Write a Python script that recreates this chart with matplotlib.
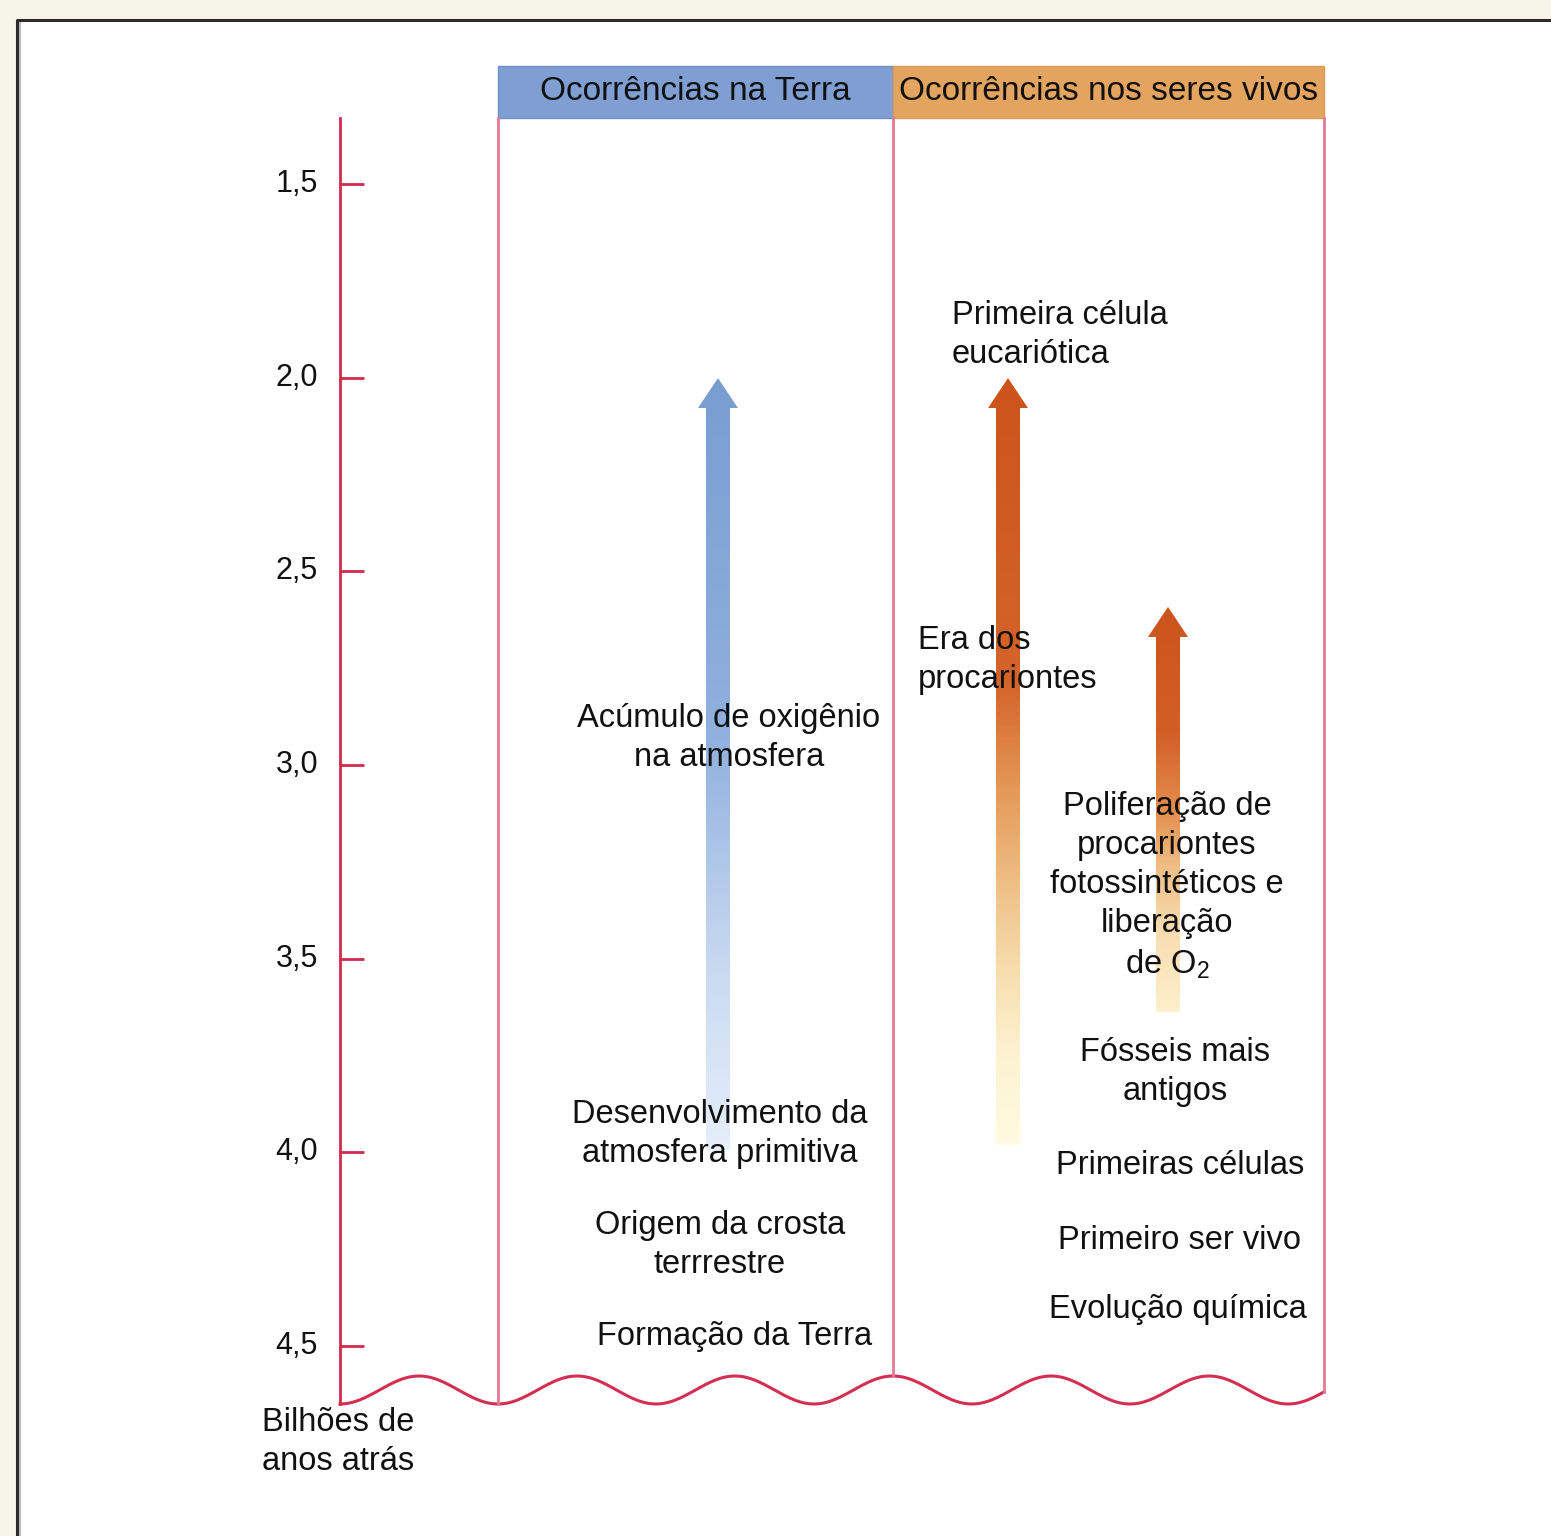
import numpy as np
import matplotlib.pyplot as plt
from matplotlib.patches import Polygon, Rectangle
from matplotlib.colors import LinearSegmentedColormap

plt.rcParams['font.family'] = ['Liberation Sans', 'DejaVu Sans']
plt.rcParams['mathtext.fontset'] = 'custom'
plt.rcParams['mathtext.rm'] = 'Liberation Sans'
plt.rcParams['mathtext.it'] = 'Liberation Sans:italic'

# timeline (billions of years ago)
ticks = [1.5, 2.0, 2.5, 3.0, 3.5, 4.0, 4.5]
tick_labels = ['1,5', '2,0', '2,5', '3,0', '3,5', '4,0', '4,5']
headers = ['Ocorrências na Terra', 'Ocorrências nos seres vivos']

earth_events = ['Formação da Terra', 'Origem da crosta\nterrrestre',
                'Desenvolvimento da\natmosfera primitiva',
                'Acúmulo de oxigênio\nna atmosfera']
earth_times = [4.477, 4.24, 3.953, 2.93]

life_events = ['Evolução química', 'Primeiro ser vivo', 'Primeiras células',
               'Fósseis mais\nantigos',
               'Poliferação de\nprocariontes\nfotossintéticos e\nliberação\nde O$_2$']
life_times = [4.407, 4.229, 4.035, 3.793, 3.313]

left_events = ['Era dos\nprocariontes', 'Primeira célula\neucariótica']
left_times = [2.729, 1.89]

# arrows: (start, end) in billions of years
arrow_start = [3.994, 3.98, 3.638]
arrow_end = [2.001, 2.001, 2.592]

W, H = 1551, 1536
PX0, PXS = 184, 387.3  # pixel row of 1,5 and pixels per billion years


def yr(px):
    return 1.5 + (px - PX0) / PXS


fig = plt.figure(figsize=(W / 100, H / 100), dpi=100)
fig.patch.set_facecolor('#f7f5ea')

# layout layer in pixels
lay = fig.add_axes([0, 0, 1, 1])
lay.set_xlim(0, W)
lay.set_ylim(H, 0)
lay.axis('off')
lay.add_patch(Rectangle((17, 20), W, H, facecolor='white', edgecolor='none'))
lay.plot([19, 19], [H, 22], color='#bdbdbd', lw=3)
lay.plot([17, 17, W], [H, 20, 20], color='#2b2b2b', lw=2.2, solid_capstyle='butt')

# headers
hdr_x = [498, 893, 1324]
hdr_c = ['#7f9ed2', '#e3a45f']
hdr_e = ['#6f8fc8', '#d99a55']
for i in range(2):
    lay.add_patch(Rectangle((hdr_x[i], 66), hdr_x[i + 1] - hdr_x[i], 52,
                            facecolor=hdr_c[i], edgecolor=hdr_e[i], lw=1))
    lay.text((hdr_x[i] + hdr_x[i + 1]) / 2, 91, headers[i], ha='center', va='center',
             fontsize=24, color='#111111')

# bottom wavy edge (decorative)
xw = np.linspace(340, 1324, 600)
yw = 1390 + 14 * np.cos(2 * np.pi * (xw - 340) / 158)
lay.plot(xw, yw, color='#d22f52', lw=2.2)
lay.plot([340, 340], [118, yw[0]], color='#d22a4e', lw=2)
for x in hdr_x:
    lay.plot([x, x], [118, np.interp(x, xw, yw)], color='#e27b93', lw=2)

lay.text(262, 1442, 'Bilhões de\nanos atrás', ha='left', va='center', fontsize=23.5,
         linespacing=1.33, color='#111111')

# time layer
ax = fig.add_axes([0, 0, 1, 1], facecolor='none')
ax.set_xlim(0, W)
ax.set_ylim(yr(H), yr(0))
ax.axis('off')

ax.hlines(ticks, 340, 364, color='#d22a4e', lw=2)
for t, lab in zip(ticks, tick_labels):
    ax.text(318, t, lab, ha='right', va='center', fontsize=22, color='#111111')

arrow_x = [718, 1008, 1168]
cmaps = [
    LinearSegmentedColormap.from_list('b', [(0, '#e6effa'), (0.25, '#c6d8f0'),
                                            (0.53, '#91b1de'), (1, '#789ed0')]),
    LinearSegmentedColormap.from_list('o1', [(0, '#fffae0'), (0.12, '#fdf2d0'), (0.22, '#f8dfb0'),
                                             (0.33, '#efc28a'), (0.46, '#e49a58'),
                                             (0.6, '#d4642a'), (1, '#cc541c')]),
    LinearSegmentedColormap.from_list('o2', [(0, '#fdf0cc'), (0.2, '#f8dcb0'), (0.36, '#efbd85'),
                                             (0.49, '#e49050'), (0.69, '#d25e26'),
                                             (1, '#cc541c')]),
]
head_h = 30 / PXS
for x, y0, y1, cm in zip(arrow_x, arrow_start, arrow_end, cmaps):
    sw, hw = 12, 20
    verts = [(x - sw, y0), (x + sw, y0), (x + sw, y1 + head_h), (x + hw, y1 + head_h),
             (x, y1), (x - hw, y1 + head_h), (x - sw, y1 + head_h)]
    poly = Polygon(verts, closed=True, facecolor='none', edgecolor='none')
    ax.add_patch(poly)
    grad = np.linspace(1, 0, 256).reshape(-1, 1)
    im = ax.imshow(grad, cmap=cm, extent=(x - hw, x + hw, y0, y1), aspect='auto',
                   origin='upper', vmin=0, vmax=1, zorder=1)
    im.set_extent((x - hw, x + hw, y0, y1))
    im.set_clip_path(poly)

ax.set_ylim(yr(H), yr(0))
ax.set_xlim(0, W)

txt = dict(fontsize=23.5, color='#111111', linespacing=1.33, zorder=3, va='center')
earth_x = [735, 720, 720, 729]
for lab, t, x in zip(earth_events, earth_times, earth_x):
    ax.text(x, t, lab, ha='center', **txt)
life_x = [1178, 1180, 1180, 1175, 1167]
for lab, t, x in zip(life_events, life_times, life_x):
    ax.text(x, t, lab, ha='center', **txt)
left_x = [918, 952]
for lab, t, x in zip(left_events, left_times, left_x):
    ax.text(x, t, lab, ha='left', **txt)

fig.savefig('out.png', dpi=100, facecolor=fig.get_facecolor())
